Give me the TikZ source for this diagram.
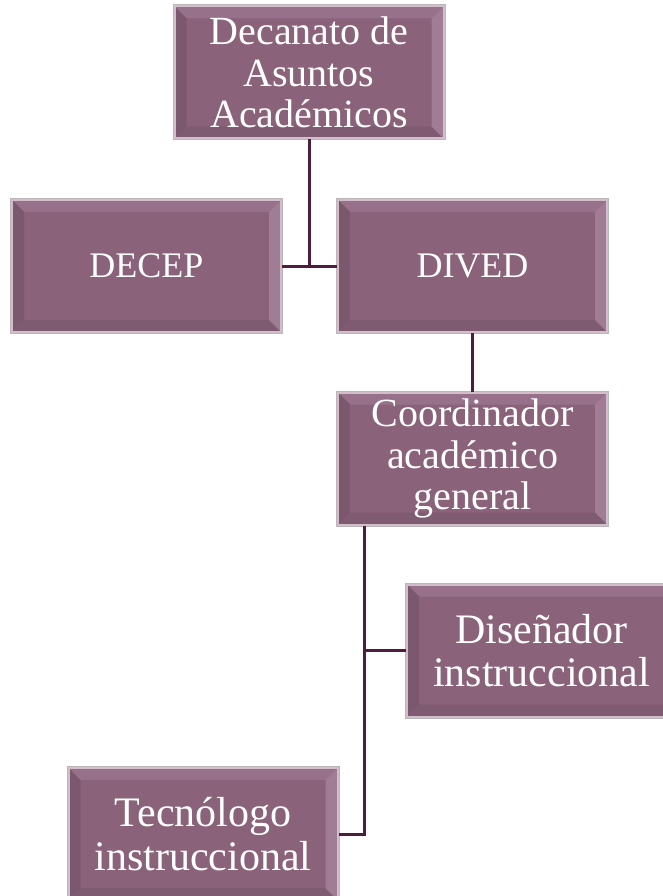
\documentclass[tikz,border=0pt]{standalone}
\usepackage{fontspec}
\setmainfont{Liberation Serif}
\definecolor{boxfill}{HTML}{8A6279}
\definecolor{bevtop}{HTML}{97708A}
\definecolor{bevright}{HTML}{A07C95}
\definecolor{bevleft}{HTML}{7C586F}
\definecolor{bevbot}{HTML}{7F5B72}
\definecolor{boxline}{HTML}{D2BDCB}
\definecolor{shadowline}{HTML}{BDB5BA}
\definecolor{linkcol}{HTML}{4E1D3E}
\tikzset{
  orgbox/.style={draw=boxline, line width=2pt, fill=boxfill, inner sep=0pt,
    minimum width=269pt, minimum height=132pt, align=center, text=white,
    preaction={draw=shadowline, line width=4pt},
    path picture={
      \fill[bevtop] (path picture bounding box.north west) -- (path picture bounding box.north east)
        -- ([xshift=-12pt,yshift=-12pt]path picture bounding box.north east)
        -- ([xshift=12pt,yshift=-12pt]path picture bounding box.north west) -- cycle;
      \fill[bevbot] (path picture bounding box.south west) -- (path picture bounding box.south east)
        -- ([xshift=-12pt,yshift=12pt]path picture bounding box.south east)
        -- ([xshift=12pt,yshift=12pt]path picture bounding box.south west) -- cycle;
      \fill[bevleft] (path picture bounding box.north west) -- (path picture bounding box.south west)
        -- ([xshift=12pt,yshift=12pt]path picture bounding box.south west)
        -- ([xshift=12pt,yshift=-12pt]path picture bounding box.north west) -- cycle;
      \fill[bevright] (path picture bounding box.north east) -- (path picture bounding box.south east)
        -- ([xshift=-12pt,yshift=12pt]path picture bounding box.south east)
        -- ([xshift=-12pt,yshift=-12pt]path picture bounding box.north east) -- cycle;
    }},
  link/.style={draw=linkcol, line width=3pt}
}
\begin{document}
\begin{tikzpicture}[x=1pt,y=-1pt]
\useasboundingbox (0,0) rectangle (663,896);
\clip (0,0) rectangle (663,896);
\fill[white] (0,0) rectangle (663,896);
\node[orgbox, font=\fontsize{40}{41.5}\selectfont] (top) at (309,72.5) {Decanato de\\Asuntos\\Académicos};
\node[orgbox, font=\fontsize{36}{40}\selectfont] (decep) at (146.5,266) {DECEP};
\node[orgbox, font=\fontsize{36}{40}\selectfont] (dived) at (472.5,266) {DIVED};
\node[orgbox, font=\fontsize{40}{41.5}\selectfont] (coord) at (472.5,458.5) {Coordinador\\académico\\general};
\node[orgbox, font=\fontsize{42}{43.5}\selectfont] (dis) at (541.5,650.5) {Diseñador\\instruccional};
\node[orgbox, font=\fontsize{42}{43.5}\selectfont] (tec) at (203,834) {Tecnólogo\\instruccional};
\coordinate (cb) at ([xshift=27pt]coord.south west);
\draw[link] (top.south) -- (top.south |- decep.east);
\draw[link] (decep.east) -- (dived.west);
\draw[link] (dived.south) -- (coord.north);
\draw[link] (cb) |- (tec.east);
\draw[link] (cb |- dis.west) -- (dis.west);
\end{tikzpicture}
\end{document}
